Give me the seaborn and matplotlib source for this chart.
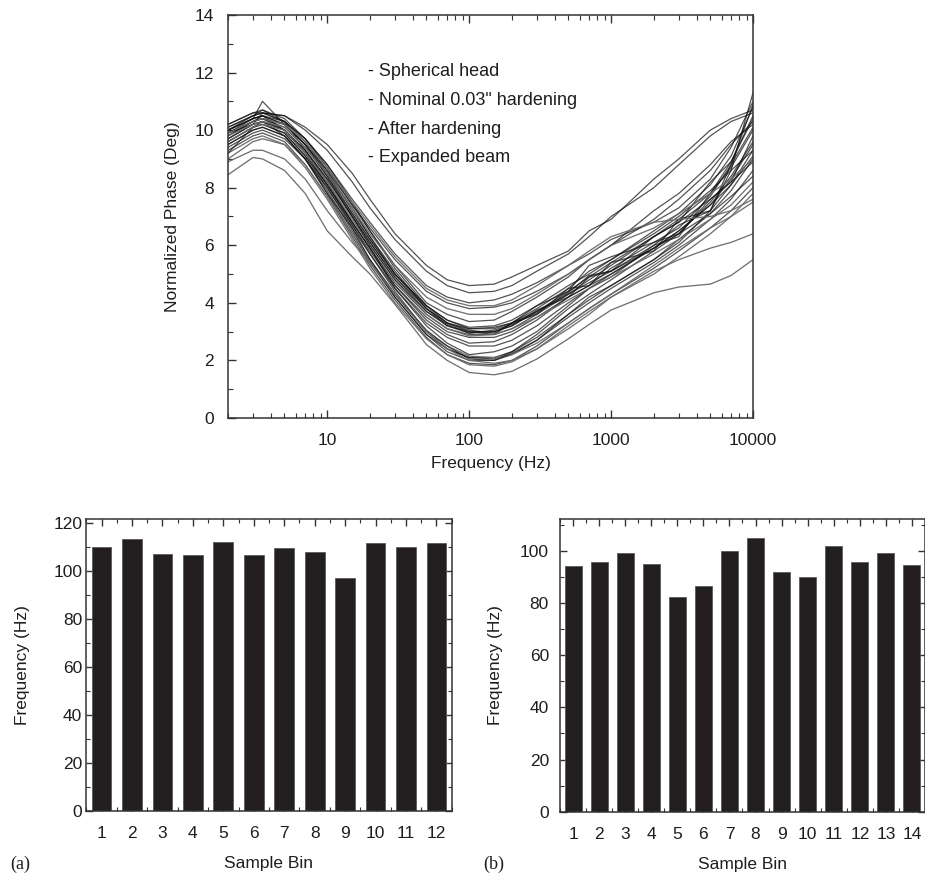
import matplotlib
matplotlib.use("Agg")
import matplotlib.pyplot as plt
import numpy as np
import pandas as pd
import seaborn as sns
from matplotlib.ticker import (FixedLocator, FixedFormatter, LogLocator,
                               MultipleLocator, NullFormatter)

# ---------------------------------------------------------------- data
freq_hz = [2, 3, 3.5, 5, 7, 10, 15, 20, 30, 50, 70, 100, 150, 200, 300,
           500, 700, 1000, 2000, 3000, 5000, 7000, 10000]

# normalized phase (deg) per measurement run, sampled at freq_hz
phase_a1 = [9.5, 10.0, 10.1, 9.8, 9.0, 7.9, 6.5, 5.5, 4.2, 2.9, 2.3, 2.0, 2.0, 2.2, 2.7, 3.5, 4.0, 4.5, 5.4, 6.0, 6.9, 7.6, 8.6]
phase_a2 = [9.3, 9.8, 9.9, 9.6, 8.8, 7.7, 6.3, 5.3, 4.1, 2.8, 2.2, 1.9, 1.85, 2.0, 2.5, 3.3, 3.8, 4.3, 5.2, 5.8, 6.6, 7.2, 8.0]
phase_a3 = [9.7, 10.2, 10.3, 10.0, 9.2, 8.1, 6.7, 5.7, 4.4, 3.0, 2.4, 2.1, 2.05, 2.3, 2.9, 3.8, 4.3, 4.8, 5.8, 6.4, 7.5, 8.4, 9.6]
phase_a4 = [9.0, 9.6, 9.7, 9.5, 8.7, 7.6, 6.2, 5.2, 4.0, 2.75, 2.2, 1.85, 1.8, 1.95, 2.4, 3.2, 3.7, 4.2, 5.0, 5.6, 6.4, 7.0, 7.8]
phase_a5 = [9.9, 10.3, 10.5, 10.0, 9.3, 8.2, 6.8, 5.9, 4.5, 3.2, 2.6, 2.2, 2.3, 2.5, 3.0, 3.9, 4.5, 4.9, 6.0, 6.3, 7.8, 8.9, 10.4]
phase_a6 = [9.4, 9.9, 10.0, 9.7, 9.0, 7.8, 6.4, 5.4, 4.2, 2.9, 2.4, 2.1, 2.1, 2.3, 2.8, 3.6, 4.1, 4.6, 5.5, 6.2, 7.1, 7.9, 9.0]
phase_a7 = [9.2, 9.7, 9.8, 9.5, 8.8, 7.7, 6.4, 5.5, 4.3, 3.0, 2.5, 2.15, 2.1, 2.2, 2.6, 3.3, 3.8, 4.3, 5.3, 5.9, 6.6, 7.0, 7.5]
phase_e2 = [9.2, 10.1, 10.3, 9.8, 9.0, 7.8, 6.6, 5.5, 4.3, 3.05, 2.5, 2.05, 2.0, 2.25, 2.7, 3.6, 4.2, 4.6, 5.5, 6.1, 7.2, 8.1, 9.3]
phase_m1 = [9.6, 10.1, 10.2, 9.9, 9.1, 8.0, 6.6, 5.7, 4.5, 3.3, 2.8, 2.5, 2.5, 2.7, 3.2, 4.0, 4.5, 5.0, 5.9, 6.5, 7.4, 8.1, 9.1]
phase_m2 = [9.8, 10.3, 10.4, 10.0, 9.2, 8.1, 6.8, 5.9, 4.6, 3.4, 2.9, 2.6, 2.65, 2.9, 3.4, 4.2, 4.6, 5.2, 6.1, 6.6, 7.7, 8.8, 10.1]
phase_b1 = [9.8, 10.3, 10.4, 10.1, 9.4, 8.4, 7.1, 6.2, 5.0, 3.9, 3.4, 3.1, 3.1, 3.3, 3.7, 4.3, 4.7, 5.1, 5.9, 6.5, 7.4, 8.3, 9.5]
phase_b2 = [10.1, 10.5, 10.6, 10.3, 9.6, 8.6, 7.2, 6.3, 5.1, 3.8, 3.3, 3.0, 3.0, 3.2, 3.75, 4.2, 4.9, 5.1, 6.3, 6.8, 8.2, 8.9, 10.5]
phase_b3 = [9.6, 10.1, 10.2, 9.9, 9.1, 8.1, 6.8, 5.9, 4.7, 3.6, 3.1, 2.9, 2.9, 3.1, 3.6, 4.3, 4.8, 5.3, 6.3, 6.8, 7.6, 8.2, 8.9]
phase_b4 = [10.0, 10.4, 11.0, 10.2, 9.5, 8.5, 7.3, 6.3, 5.0, 3.8, 3.2, 3.0, 2.9, 3.3, 3.6, 4.5, 4.6, 5.4, 5.8, 6.9, 7.2, 8.6, 11.3]
phase_b5 = [9.7, 10.2, 10.3, 10.0, 9.3, 8.3, 7.0, 6.1, 4.9, 3.7, 3.2, 2.95, 3.0, 3.2, 3.7, 4.4, 4.9, 5.4, 6.3, 6.9, 7.8, 8.7, 10.0]
phase_b6 = [9.9, 10.4, 10.5, 10.2, 9.5, 8.5, 7.1, 6.2, 5.0, 3.9, 3.4, 3.15, 3.2, 3.4, 3.9, 4.6, 5.0, 5.5, 6.5, 7.1, 8.1, 9.1, 10.8]
phase_b7 = [9.5, 10.0, 10.1, 9.8, 9.0, 8.0, 6.7, 5.8, 4.6, 3.5, 3.0, 2.8, 2.8, 3.0, 3.5, 4.2, 4.6, 5.0, 5.9, 6.4, 7.1, 7.7, 8.4]
phase_b8 = [10.2, 10.6, 10.7, 10.4, 9.7, 8.8, 7.5, 6.5, 5.2, 3.9, 3.3, 3.05, 2.95, 3.3, 3.9, 4.4, 5.3, 5.6, 6.1, 6.4, 7.6, 8.2, 9.8]
phase_b9 = [9.6, 10.1, 10.2, 10.0, 9.2, 8.2, 6.9, 6.0, 4.8, 3.6, 3.1, 2.85, 2.9, 3.1, 3.5, 4.1, 4.5, 4.9, 5.7, 6.2, 6.9, 7.4, 8.2]
phase_b10 = [10.0, 10.4, 10.5, 10.2, 9.5, 8.4, 7.0, 6.1, 4.9, 3.8, 3.3, 3.1, 3.15, 3.3, 3.8, 4.5, 5.1, 5.5, 6.4, 7.0, 7.9, 8.6, 9.3]
phase_e1 = [9.9, 10.2, 10.6, 10.3, 9.3, 8.3, 7.0, 6.0, 4.8, 3.7, 3.25, 2.95, 3.05, 3.25, 3.65, 4.35, 4.95, 5.1, 6.0, 6.7, 7.2, 8.8, 10.9]
phase_e3 = [10.0, 10.5, 10.7, 10.3, 9.7, 8.7, 7.4, 6.5, 5.3, 4.0, 3.6, 3.35, 3.4, 3.7, 4.2, 4.9, 5.5, 6.0, 7.2, 7.8, 8.8, 9.6, 10.2]
phase_c1 = [10.1, 10.5, 10.6, 10.5, 10.1, 9.5, 8.5, 7.6, 6.4, 5.3, 4.8, 4.6, 4.65, 4.9, 5.3, 5.8, 6.5, 6.9, 8.3, 9.0, 10.0, 10.4, 10.7]
phase_c2 = [10.2, 10.6, 10.6, 10.5, 10.0, 9.3, 8.2, 7.3, 6.2, 5.1, 4.6, 4.35, 4.4, 4.6, 5.1, 5.7, 6.3, 7.0, 8.0, 8.8, 9.8, 10.3, 10.6]
phase_c3 = [10.0, 10.4, 10.5, 10.3, 9.7, 8.8, 7.6, 6.8, 5.7, 4.6, 4.2, 4.0, 4.1, 4.3, 4.7, 5.3, 5.7, 6.2, 6.8, 7.3, 8.3, 9.4, 11.0]
phase_c4 = [9.9, 10.3, 10.4, 10.2, 9.5, 8.6, 7.4, 6.6, 5.5, 4.4, 4.0, 3.8, 3.85, 4.0, 4.4, 5.0, 5.5, 6.0, 6.9, 7.6, 8.6, 9.5, 10.3]
phase_c5 = [9.8, 10.2, 10.3, 10.1, 9.4, 8.5, 7.3, 6.4, 5.3, 4.2, 3.8, 3.6, 3.6, 3.8, 4.3, 5.0, 5.5, 6.0, 6.6, 7.1, 7.8, 8.3, 9.0]
phase_c6 = [9.9, 10.3, 10.4, 10.2, 9.6, 8.7, 7.5, 6.7, 5.6, 4.5, 4.1, 3.9, 3.9, 4.1, 4.6, 5.3, 5.8, 6.3, 6.8, 6.9, 7.0, 7.2, 7.6]
phase_d1 = [8.45, 9.05, 9.0, 8.6, 7.8, 6.5, 5.6, 5.0, 3.95, 2.55, 2.0, 1.58, 1.5, 1.62, 2.05, 2.75, 3.25, 3.75, 4.35, 4.55, 4.65, 4.95, 5.5]
phase_d2 = [8.9, 9.3, 9.3, 9.0, 8.3, 7.2, 6.1, 5.4, 4.3, 3.0, 2.4, 2.0, 1.9, 2.0, 2.4, 3.1, 3.6, 4.2, 5.1, 5.5, 5.9, 6.1, 6.4]

run_names = ["a1", "a2", "a3", "a4", "a5", "a6", "a7", "e2", "m1", "m2",
             "b1", "b2", "b3", "b4", "b5", "b6", "b7", "b8", "b9", "b10",
             "e1", "e3", "c1", "c2", "c3", "c4", "c5", "c6", "d1", "d2"]
run_values = [phase_a1, phase_a2, phase_a3, phase_a4, phase_a5, phase_a6,
              phase_a7, phase_e2, phase_m1, phase_m2, phase_b1, phase_b2,
              phase_b3, phase_b4, phase_b5, phase_b6, phase_b7, phase_b8,
              phase_b9, phase_b10, phase_e1, phase_e3, phase_c1, phase_c2,
              phase_c3, phase_c4, phase_c5, phase_c6, phase_d1, phase_d2]

notes = ["- Spherical head", "- Nominal 0.03\" hardening",
         "- After hardening", "- Expanded beam"]

bins_a = list(range(1, 13))
freq_a = [109.9, 113.1, 107.0, 106.5, 112.0, 106.4, 109.5, 107.8, 97.0,
          111.7, 109.9, 111.4]
bins_b = list(range(1, 15))
freq_b = [94.1, 95.7, 99.1, 95.1, 82.5, 86.5, 100.0, 104.9, 91.8, 90.0,
          101.8, 95.9, 99.1, 94.5]

# ---------------------------------------------------------------- style
sns.set_theme(style="ticks")
plt.rcParams["font.family"] = ["Liberation Sans", "DejaVu Sans"]
plt.rcParams["font.size"] = 12.5
plt.rcParams["axes.edgecolor"] = "#333333"
plt.rcParams["axes.linewidth"] = 1.1
plt.rcParams["xtick.color"] = "#333333"
plt.rcParams["ytick.color"] = "#333333"
plt.rcParams["xtick.labelcolor"] = "#1e1e1e"
plt.rcParams["ytick.labelcolor"] = "#1e1e1e"
TXT = "#1e1e1e"
LABEL_FS = 12.5

smooth_runs = {"a7", "c6", "d1", "d2", "a4", "b9", "c5"}

fig = plt.figure(figsize=(9.25, 8.77), dpi=100)

# ---------------------------------------------------------------- phase plot
ax = fig.add_axes([0.2465, 0.5234, 0.5676, 0.4595])
long = pd.DataFrame({
    "Frequency": np.tile(freq_hz, len(run_names)),
    "Phase": np.concatenate(run_values),
    "Run": np.repeat(run_names, len(freq_hz)),
})
for name in run_names:
    sub = long[long["Run"] == name]
    if name in smooth_runs:
        col, alpha, lw = "#6a6a6a", 0.95, 0.95
    else:
        col, alpha, lw = "#111111", 0.72, 0.9
    sns.lineplot(data=sub, x="Frequency", y="Phase", ax=ax, color=col,
                 alpha=alpha, linewidth=lw, legend=False, estimator=None,
                 sort=False)

ax.set_xscale("log")
ax.set_xlim(2, 10000)
ax.set_ylim(0, 14)
ax.xaxis.set_major_locator(FixedLocator([10, 100, 1000, 10000]))
ax.xaxis.set_major_formatter(FixedFormatter(["10", "100", "1000", "10000"]))
ax.xaxis.set_minor_locator(LogLocator(base=10, subs=np.arange(2, 10)))
ax.xaxis.set_minor_formatter(NullFormatter())
ax.yaxis.set_major_locator(MultipleLocator(2))
ax.yaxis.set_minor_locator(MultipleLocator(1))
ax.tick_params(which="both", direction="in", top=True, right=False,
               labelsize=LABEL_FS)
ax.tick_params(which="major", length=6, width=1.0)
ax.tick_params(which="minor", length=3.5, width=0.8)
ax.tick_params(axis="x", which="major", pad=11)
ax.tick_params(axis="y", which="major", pad=10)
ax.set_xlabel("Frequency (Hz)", fontsize=LABEL_FS, color=TXT)
ax.set_ylabel("Normalized Phase (Deg)", fontsize=LABEL_FS, color=TXT)
ax.xaxis.set_label_coords(0.5, -0.095)
ax.yaxis.set_label_coords(-0.092, 0.5)
for i, s in enumerate(notes):
    ax.text(0.267, 0.859 - i * 0.0712, s, transform=ax.transAxes,
            fontsize=13, color=TXT, va="center", ha="left")

# ---------------------------------------------------------------- bar plots
def bar_panel(rect, bins, values, ytop, ypad, ylab_x):
    bx = fig.add_axes(rect)
    df = pd.DataFrame({"bin": [str(b) for b in bins], "freq": values})
    sns.barplot(data=df, x="bin", y="freq", ax=bx, color="#231f20",
                saturation=1, width=0.65, edgecolor="#5a5a5a",
                linewidth=0.6, errorbar=None)
    n = len(bins)
    bx.set_xlim(-0.5, n - 0.5)
    bx.set_ylim(0, ytop)
    bx.yaxis.set_major_locator(MultipleLocator(20))
    bx.yaxis.set_minor_locator(MultipleLocator(10))
    bx.xaxis.set_minor_locator(FixedLocator(np.arange(-0.5, n, 1.0)))
    bx.tick_params(which="both", direction="in", top=True, right=True,
                   labelsize=LABEL_FS)
    bx.tick_params(which="major", length=5, width=1.0)
    bx.tick_params(which="minor", length=3, width=0.8)
    bx.tick_params(axis="x", which="major", pad=11)
    bx.tick_params(axis="y", which="major", pad=ypad)
    bx.set_xlabel("Sample Bin", fontsize=LABEL_FS, color=TXT)
    bx.set_ylabel("Frequency (Hz)", fontsize=LABEL_FS, color=TXT)
    bx.xaxis.set_label_coords(0.5, -0.155)
    bx.yaxis.set_label_coords(ylab_x, 0.5)
    return bx

ax_a = bar_panel([0.0933, 0.0756, 0.3950, 0.3326], bins_a, freq_a, 121.5,
                 3, -0.155)
ax_b = bar_panel([0.6054, 0.0745, 0.3946, 0.3337], bins_b, freq_b, 112.3,
                 8, -0.155)

fig.text(10 / 925, 1 - 864 / 877, "(a)", fontsize=13, color=TXT,
         family=["Liberation Serif", "DejaVu Serif"], va="center", ha="left")
fig.text(483 / 925, 1 - 864 / 877, "(b)", fontsize=13, color=TXT,
         family=["Liberation Serif", "DejaVu Serif"], va="center", ha="left")

fig.savefig("out.png", dpi=100, facecolor="white")
